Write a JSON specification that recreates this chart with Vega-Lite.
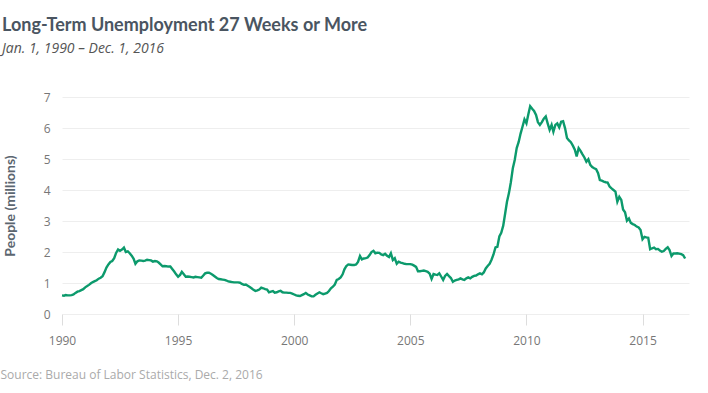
{
"$schema":"https://vega.github.io/schema/vega-lite/v6.json",
"width":627,"height":217,
"autosize":{"type":"none"},
"padding":{"left":62,"top":97,"right":19,"bottom":79},
"background":"white",
"config":{"view":{"stroke":null}},
"title":{"text":"Long-Term Unemployment 27 Weeks or More","subtitle":"Jan. 1, 1990 – Dec. 1, 2016","anchor":"start","frame":"group","dx":-60,"offset":35,"font":"Lato","fontSize":18,"fontWeight":"bold","color":"#4a5561","subtitleFont":"Open Sans","subtitleFontStyle":"italic","subtitleFontSize":14,"subtitleColor":"#555555","subtitlePadding":7},
"data":{"values":[
{"date":"1990-01-01","v":0.60},{"date":"1990-02-01","v":0.59},{"date":"1990-03-01","v":0.61},{"date":"1990-04-01","v":0.60},{"date":"1990-05-01","v":0.60},{"date":"1990-06-01","v":0.61},{"date":"1990-07-01","v":0.63},{"date":"1990-08-01","v":0.68},{"date":"1990-09-01","v":0.72},{"date":"1990-10-01","v":0.74},{"date":"1990-11-01","v":0.77},{"date":"1990-12-01","v":0.80},
{"date":"1991-01-01","v":0.86},{"date":"1991-02-01","v":0.90},{"date":"1991-03-01","v":0.94},{"date":"1991-04-01","v":0.99},{"date":"1991-05-01","v":1.03},{"date":"1991-06-01","v":1.06},{"date":"1991-07-01","v":1.09},{"date":"1991-08-01","v":1.14},{"date":"1991-09-01","v":1.17},{"date":"1991-10-01","v":1.22},{"date":"1991-11-01","v":1.35},{"date":"1991-12-01","v":1.50},
{"date":"1992-01-01","v":1.60},{"date":"1992-02-01","v":1.68},{"date":"1992-03-01","v":1.71},{"date":"1992-04-01","v":1.80},{"date":"1992-05-01","v":1.97},{"date":"1992-06-01","v":2.08},{"date":"1992-07-01","v":2.04},{"date":"1992-08-01","v":2.08},{"date":"1992-09-01","v":2.14},{"date":"1992-10-01","v":2.00},{"date":"1992-11-01","v":2.02},{"date":"1992-12-01","v":1.96},
{"date":"1993-01-01","v":1.88},{"date":"1993-02-01","v":1.78},{"date":"1993-03-01","v":1.62},{"date":"1993-04-01","v":1.70},{"date":"1993-05-01","v":1.73},{"date":"1993-06-01","v":1.72},{"date":"1993-07-01","v":1.71},{"date":"1993-08-01","v":1.72},{"date":"1993-09-01","v":1.75},{"date":"1993-10-01","v":1.74},{"date":"1993-11-01","v":1.73},{"date":"1993-12-01","v":1.69},
{"date":"1994-01-01","v":1.71},{"date":"1994-02-01","v":1.70},{"date":"1994-03-01","v":1.66},{"date":"1994-04-01","v":1.60},{"date":"1994-05-01","v":1.54},{"date":"1994-06-01","v":1.55},{"date":"1994-07-01","v":1.54},{"date":"1994-08-01","v":1.53},{"date":"1994-09-01","v":1.53},{"date":"1994-10-01","v":1.45},{"date":"1994-11-01","v":1.37},{"date":"1994-12-01","v":1.28},
{"date":"1995-01-01","v":1.20},{"date":"1995-02-01","v":1.26},{"date":"1995-03-01","v":1.36},{"date":"1995-04-01","v":1.28},{"date":"1995-05-01","v":1.20},{"date":"1995-06-01","v":1.21},{"date":"1995-07-01","v":1.20},{"date":"1995-08-01","v":1.19},{"date":"1995-09-01","v":1.18},{"date":"1995-10-01","v":1.20},{"date":"1995-11-01","v":1.19},{"date":"1995-12-01","v":1.18},
{"date":"1996-01-01","v":1.17},{"date":"1996-02-01","v":1.24},{"date":"1996-03-01","v":1.31},{"date":"1996-04-01","v":1.33},{"date":"1996-05-01","v":1.33},{"date":"1996-06-01","v":1.30},{"date":"1996-07-01","v":1.26},{"date":"1996-08-01","v":1.21},{"date":"1996-09-01","v":1.16},{"date":"1996-10-01","v":1.13},{"date":"1996-11-01","v":1.12},{"date":"1996-12-01","v":1.11},
{"date":"1997-01-01","v":1.10},{"date":"1997-02-01","v":1.08},{"date":"1997-03-01","v":1.05},{"date":"1997-04-01","v":1.04},{"date":"1997-05-01","v":1.03},{"date":"1997-06-01","v":1.02},{"date":"1997-07-01","v":1.02},{"date":"1997-08-01","v":1.02},{"date":"1997-09-01","v":1.01},{"date":"1997-10-01","v":0.97},{"date":"1997-11-01","v":0.94},{"date":"1997-12-01","v":0.95},
{"date":"1998-01-01","v":0.91},{"date":"1998-02-01","v":0.87},{"date":"1998-03-01","v":0.83},{"date":"1998-04-01","v":0.78},{"date":"1998-05-01","v":0.74},{"date":"1998-06-01","v":0.76},{"date":"1998-07-01","v":0.79},{"date":"1998-08-01","v":0.85},{"date":"1998-09-01","v":0.83},{"date":"1998-10-01","v":0.80},{"date":"1998-11-01","v":0.79},{"date":"1998-12-01","v":0.70},
{"date":"1999-01-01","v":0.72},{"date":"1999-02-01","v":0.74},{"date":"1999-03-01","v":0.69},{"date":"1999-04-01","v":0.70},{"date":"1999-05-01","v":0.73},{"date":"1999-06-01","v":0.75},{"date":"1999-07-01","v":0.70},{"date":"1999-08-01","v":0.69},{"date":"1999-09-01","v":0.69},{"date":"1999-10-01","v":0.68},{"date":"1999-11-01","v":0.68},{"date":"1999-12-01","v":0.66},
{"date":"2000-01-01","v":0.63},{"date":"2000-02-01","v":0.60},{"date":"2000-03-01","v":0.59},{"date":"2000-04-01","v":0.58},{"date":"2000-05-01","v":0.61},{"date":"2000-06-01","v":0.64},{"date":"2000-07-01","v":0.68},{"date":"2000-08-01","v":0.63},{"date":"2000-09-01","v":0.60},{"date":"2000-10-01","v":0.57},{"date":"2000-11-01","v":0.57},{"date":"2000-12-01","v":0.62},
{"date":"2001-01-01","v":0.66},{"date":"2001-02-01","v":0.70},{"date":"2001-03-01","v":0.67},{"date":"2001-04-01","v":0.64},{"date":"2001-05-01","v":0.66},{"date":"2001-06-01","v":0.68},{"date":"2001-07-01","v":0.74},{"date":"2001-08-01","v":0.83},{"date":"2001-09-01","v":0.88},{"date":"2001-10-01","v":0.95},{"date":"2001-11-01","v":1.10},{"date":"2001-12-01","v":1.13},
{"date":"2002-01-01","v":1.18},{"date":"2002-02-01","v":1.28},{"date":"2002-03-01","v":1.44},{"date":"2002-04-01","v":1.55},{"date":"2002-05-01","v":1.60},{"date":"2002-06-01","v":1.59},{"date":"2002-07-01","v":1.58},{"date":"2002-08-01","v":1.58},{"date":"2002-09-01","v":1.60},{"date":"2002-10-01","v":1.68},{"date":"2002-11-01","v":1.87},{"date":"2002-12-01","v":1.76},
{"date":"2003-01-01","v":1.79},{"date":"2003-02-01","v":1.80},{"date":"2003-03-01","v":1.82},{"date":"2003-04-01","v":1.90},{"date":"2003-05-01","v":2.00},{"date":"2003-06-01","v":2.04},{"date":"2003-07-01","v":1.96},{"date":"2003-08-01","v":1.98},{"date":"2003-09-01","v":1.97},{"date":"2003-10-01","v":1.92},{"date":"2003-11-01","v":1.90},{"date":"2003-12-01","v":1.94},
{"date":"2004-01-01","v":1.88},{"date":"2004-02-01","v":1.84},{"date":"2004-03-01","v":1.96},{"date":"2004-04-01","v":1.74},{"date":"2004-05-01","v":1.80},{"date":"2004-06-01","v":1.62},{"date":"2004-07-01","v":1.69},{"date":"2004-08-01","v":1.66},{"date":"2004-09-01","v":1.64},{"date":"2004-10-01","v":1.62},{"date":"2004-11-01","v":1.61},{"date":"2004-12-01","v":1.61},
{"date":"2005-01-01","v":1.61},{"date":"2005-02-01","v":1.59},{"date":"2005-03-01","v":1.56},{"date":"2005-04-01","v":1.52},{"date":"2005-05-01","v":1.38},{"date":"2005-06-01","v":1.38},{"date":"2005-07-01","v":1.39},{"date":"2005-08-01","v":1.40},{"date":"2005-09-01","v":1.38},{"date":"2005-10-01","v":1.36},{"date":"2005-11-01","v":1.30},{"date":"2005-12-01","v":1.13},
{"date":"2006-01-01","v":1.29},{"date":"2006-02-01","v":1.27},{"date":"2006-03-01","v":1.26},{"date":"2006-04-01","v":1.31},{"date":"2006-05-01","v":1.21},{"date":"2006-06-01","v":1.10},{"date":"2006-07-01","v":1.23},{"date":"2006-08-01","v":1.29},{"date":"2006-09-01","v":1.22},{"date":"2006-10-01","v":1.16},{"date":"2006-11-01","v":1.04},{"date":"2006-12-01","v":1.08},
{"date":"2007-01-01","v":1.10},{"date":"2007-02-01","v":1.12},{"date":"2007-03-01","v":1.15},{"date":"2007-04-01","v":1.12},{"date":"2007-05-01","v":1.10},{"date":"2007-06-01","v":1.15},{"date":"2007-07-01","v":1.18},{"date":"2007-08-01","v":1.15},{"date":"2007-09-01","v":1.20},{"date":"2007-10-01","v":1.23},{"date":"2007-11-01","v":1.24},{"date":"2007-12-01","v":1.28},
{"date":"2008-01-01","v":1.31},{"date":"2008-02-01","v":1.28},{"date":"2008-03-01","v":1.34},{"date":"2008-04-01","v":1.47},{"date":"2008-05-01","v":1.55},{"date":"2008-06-01","v":1.62},{"date":"2008-07-01","v":1.75},{"date":"2008-08-01","v":1.92},{"date":"2008-09-01","v":2.15},{"date":"2008-10-01","v":2.17},{"date":"2008-11-01","v":2.50},{"date":"2008-12-01","v":2.62},
{"date":"2009-01-01","v":2.85},{"date":"2009-02-01","v":3.25},{"date":"2009-03-01","v":3.62},{"date":"2009-04-01","v":3.90},{"date":"2009-05-01","v":4.25},{"date":"2009-06-01","v":4.70},{"date":"2009-07-01","v":4.97},{"date":"2009-08-01","v":5.35},{"date":"2009-09-01","v":5.55},{"date":"2009-10-01","v":5.82},{"date":"2009-11-01","v":6.05},{"date":"2009-12-01","v":6.28},
{"date":"2010-01-01","v":6.15},{"date":"2010-02-01","v":6.45},{"date":"2010-03-01","v":6.70},{"date":"2010-04-01","v":6.62},{"date":"2010-05-01","v":6.55},{"date":"2010-06-01","v":6.42},{"date":"2010-07-01","v":6.19},{"date":"2010-08-01","v":6.10},{"date":"2010-09-01","v":6.19},{"date":"2010-10-01","v":6.30},{"date":"2010-11-01","v":6.37},{"date":"2010-12-01","v":6.15},
{"date":"2011-01-01","v":5.94},{"date":"2011-02-01","v":6.10},{"date":"2011-03-01","v":5.88},{"date":"2011-04-01","v":6.10},{"date":"2011-05-01","v":6.15},{"date":"2011-06-01","v":6.02},{"date":"2011-07-01","v":6.20},{"date":"2011-08-01","v":6.22},{"date":"2011-09-01","v":5.99},{"date":"2011-10-01","v":5.68},{"date":"2011-11-01","v":5.60},{"date":"2011-12-01","v":5.54},
{"date":"2012-01-01","v":5.43},{"date":"2012-02-01","v":5.30},{"date":"2012-03-01","v":5.08},{"date":"2012-04-01","v":5.35},{"date":"2012-05-01","v":5.26},{"date":"2012-06-01","v":5.15},{"date":"2012-07-01","v":5.05},{"date":"2012-08-01","v":4.91},{"date":"2012-09-01","v":4.99},{"date":"2012-10-01","v":4.81},{"date":"2012-11-01","v":4.74},{"date":"2012-12-01","v":4.70},
{"date":"2013-01-01","v":4.67},{"date":"2013-02-01","v":4.54},{"date":"2013-03-01","v":4.32},{"date":"2013-04-01","v":4.30},{"date":"2013-05-01","v":4.27},{"date":"2013-06-01","v":4.25},{"date":"2013-07-01","v":4.24},{"date":"2013-08-01","v":4.11},{"date":"2013-09-01","v":4.05},{"date":"2013-10-01","v":4.00},{"date":"2013-11-01","v":3.95},{"date":"2013-12-01","v":3.62},
{"date":"2014-01-01","v":3.78},{"date":"2014-02-01","v":3.68},{"date":"2014-03-01","v":3.37},{"date":"2014-04-01","v":3.28},{"date":"2014-05-01","v":3.01},{"date":"2014-06-01","v":3.08},{"date":"2014-07-01","v":2.94},{"date":"2014-08-01","v":2.90},{"date":"2014-09-01","v":2.87},{"date":"2014-10-01","v":2.82},{"date":"2014-11-01","v":2.79},{"date":"2014-12-01","v":2.71},
{"date":"2015-01-01","v":2.41},{"date":"2015-02-01","v":2.49},{"date":"2015-03-01","v":2.47},{"date":"2015-04-01","v":2.46},{"date":"2015-05-01","v":2.09},{"date":"2015-06-01","v":2.12},{"date":"2015-07-01","v":2.14},{"date":"2015-08-01","v":2.09},{"date":"2015-09-01","v":2.10},{"date":"2015-10-01","v":2.05},{"date":"2015-11-01","v":2.01},{"date":"2015-12-01","v":2.03},
{"date":"2016-01-01","v":2.10},{"date":"2016-02-01","v":2.15},{"date":"2016-03-01","v":2.06},{"date":"2016-04-01","v":1.87},{"date":"2016-05-01","v":1.95},{"date":"2016-06-01","v":1.95},{"date":"2016-07-01","v":1.96},{"date":"2016-08-01","v":1.95},{"date":"2016-09-01","v":1.93},{"date":"2016-10-01","v":1.90},{"date":"2016-11-01","v":1.79}
]},
"mark":{"type":"line","color":"#0c9a6c","strokeWidth":2.4},
"encoding":{
"x":{"field":"date","type":"temporal","scale":{"type":"utc","domain":["1990-01-01","2017-01-01"]},
"axis":{"title":"Source: Bureau of Labor Statistics, Dec. 2, 2016","titleAnchor":"start","titleAlign":"left","titleX":-62,"titleY":64,"titleBaseline":"alphabetic","titleFont":"Open Sans","titleFontSize":12,"titleFontWeight":"normal","titleColor":"#aaaaaa",
"tickCount":{"interval":"year","step":5},"format":"%Y","grid":false,"domain":false,"tickColor":"#dddddd","tickSize":11,"labelAlign":"center","labelFlush":true,"labelPadding":10,"labelFont":"Open Sans","labelFontSize":12,"labelColor":"#777777"}},
"y":{"field":"v","type":"quantitative","scale":{"domain":[0,7],"nice":false},
"axis":{"title":"People (millions)","titleFont":"Lato","titleFontSize":14,"titleFontWeight":"bold","titleColor":"#5b6670","titleX":-45,"titleY":108.5,"titleAlign":"center","titleBaseline":"bottom","titleAngle":270,
"values":[0,1,2,3,4,5,6,7],"grid":true,"gridColor":"#eeeeee","domain":false,"ticks":false,"labelPadding":12,"labelFont":"Open Sans","labelFontSize":12,"labelColor":"#777777"}}
}
}
